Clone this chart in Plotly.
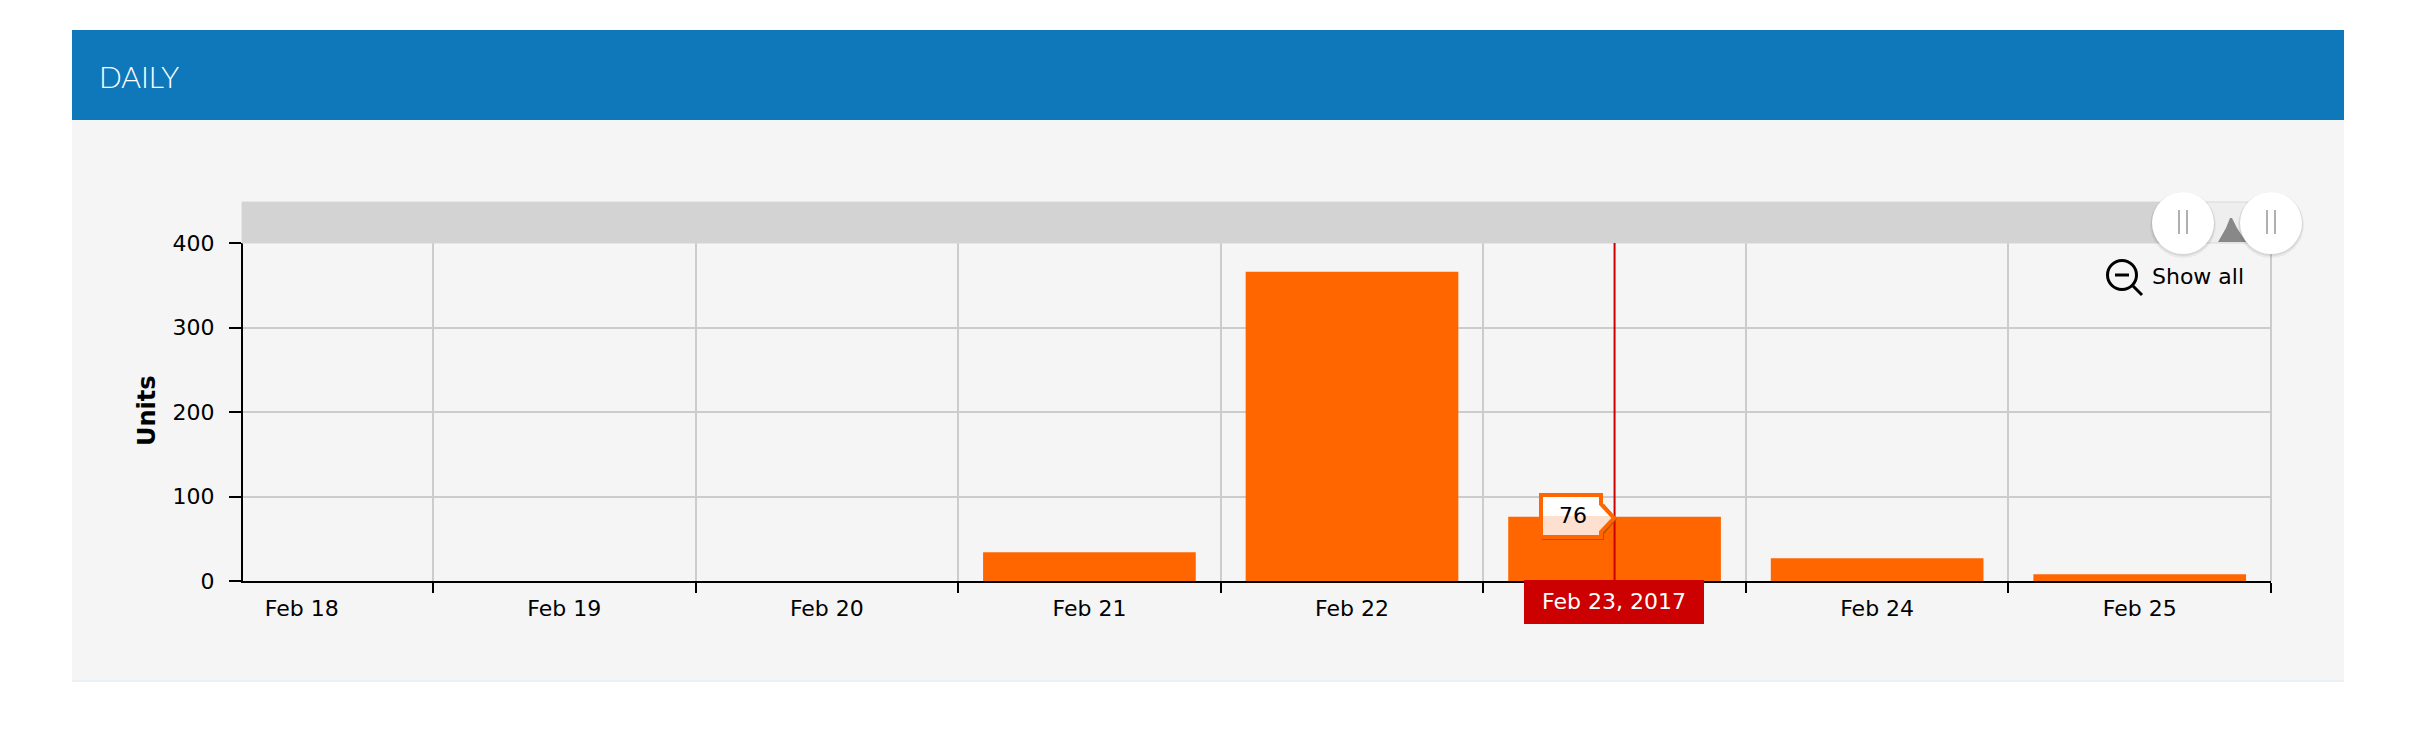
import plotly.graph_objects as go

W, H = 2426, 734
L, R, T, B = 243, 2271, 243, 581

days = ["Feb 18", "Feb 19", "Feb 20", "Feb 21", "Feb 22", "Feb 23", "Feb 24", "Feb 25"]
units = [0, 0, 0, 34, 366, 76, 27, 8]
y_ticks = [0, 100, 200, 300, 400]
cursor_day = "Feb 23"
cursor_label = "Feb 23, 2017"
header_title = "DAILY"
y_title = "Units"
zoom_label = "Show all"

ORANGE = "#ff6600"
RED = "#cc0000"
BLUE = "#0f78bb"
PANEL = "#f5f5f5"
FONT = "DejaVu Sans"
FS = 22


def px(x):
    return (x - L) / (R - L)


def py(y):
    return (B - y) / (B - T)


def rect(x0, y0, x1, y1, fill, layer="above", line=None, lw=0):
    return dict(type="rect", xref="paper", yref="paper", x0=px(x0), x1=px(x1), y0=py(y0), y1=py(y1),
                fillcolor=fill, layer=layer, line=dict(color=line or fill, width=lw))


def poly(points, fill=None, line=None, lw=0, close=True):
    d = "M" + " L".join(f"{px(a):.5f},{py(b):.5f}" for a, b in points) + (" Z" if close else "")
    return dict(type="path", xref="paper", yref="paper", path=d, layer="above",
                fillcolor=fill or "rgba(0,0,0,0)", line=dict(color=line or "rgba(0,0,0,0)", width=lw))


def circle(cx, cy, r, fill, line=None, lw=0, opacity=1):
    return dict(type="circle", xref="paper", yref="paper", x0=px(cx - r), x1=px(cx + r), y0=py(cy + r), y1=py(cy - r),
                fillcolor=fill, layer="above", opacity=opacity, line=dict(color=line or "rgba(0,0,0,0)", width=lw))


def seg(x0, y0, x1, y1, color, lw, layer="above"):
    return dict(type="line", xref="paper", yref="paper", x0=px(x0), x1=px(x1), y0=py(y0), y1=py(y1),
                layer=layer, line=dict(color=color, width=lw))


cursor_idx = days.index(cursor_day)
shapes = [
    rect(72, 30, 2344, 120, BLUE, "below"),
    rect(72, 120, 2344, 680, PANEL, "below"),
    seg(72, 681, 2344, 681, "#e8f1f8", 2),
    # right border of the plot and scrollbar
    seg(2271, 243, 2271, 581, "#cccccc", 2),
    # scrollbar
    rect(242, 202, 2271, 243, "#eeeeee", line="#d8d8d8", lw=1),
    rect(242, 202, 2183, 243, "#d3d3d3"),
    poly([(2218, 242), (2226, 228), (2230, 218), (2232, 218), (2237, 228), (2246, 242)], fill="#888888"),
    # cursor
    dict(type="line", xref="x", yref="paper", x0=cursor_idx, x1=cursor_idx, y0=0, y1=1, layer="above",
         line=dict(color=RED, width=2)),
    rect(1524, 580, 1704, 624, RED),
    # balloon
    poly([(1541, 540), (1604, 540), (1604, 534), (1617, 519), (1604, 504), (1604, 510)], fill="#b85000"),
    poly([(1541, 495), (1601, 495), (1601, 504), (1614, 518), (1601, 532), (1601, 537), (1541, 537)], fill="#fde0cf"),
    poly([(1543, 497), (1599, 497), (1599, 505), (1610, 516), (1543, 516)], fill="#ffffff"),
    poly([(1541, 495), (1601, 495), (1601, 504), (1614, 518), (1601, 532), (1601, 537), (1541, 537)], line=ORANGE, lw=4),
    # show-all icon
    circle(2122, 275, 14.5, "rgba(0,0,0,0)", "#000000", 3),
    seg(2115, 275, 2129, 275, "#000000", 3),
    seg(2133, 286, 2142, 295, "#000000", 3),
]
for cx in (2183, 2271):
    shapes += [
        circle(cx, 225, 33, "#000000", opacity=0.05),
        circle(cx, 224, 32, "#000000", opacity=0.07),
        circle(cx, 223, 31, "#ffffff"),
        seg(cx - 4, 210, cx - 4, 234, "#b0b0b0", 2),
        seg(cx + 4, 210, cx + 4, 234, "#b0b0b0", 2),
    ]

annotations = [
    dict(xref="paper", yref="paper", x=px(97), y=py(76), xanchor="left", yanchor="middle", showarrow=False,
         text=header_title, font=dict(family="Lato", size=30, color="#ffffff", weight=300)),
    dict(xref="paper", yref="paper", x=px(1614), y=py(601), xanchor="center", yanchor="middle", showarrow=False,
         text=cursor_label, font=dict(family=FONT, size=FS, color="#ffffff")),
    dict(xref="paper", yref="paper", x=px(1573), y=py(515), xanchor="center", yanchor="middle", showarrow=False,
         text=str(units[cursor_idx]), font=dict(family=FONT, size=FS, color="#000000")),
    dict(xref="paper", yref="paper", x=px(2150), y=py(276), xanchor="left", yanchor="middle", showarrow=False,
         text=zoom_label, font=dict(family=FONT, size=FS, color="#000000")),
    dict(xref="paper", yref="paper", x=px(147), y=py(411), xanchor="center", yanchor="middle", showarrow=False,
         textangle=-90, text=f"<b>{y_title}</b>", font=dict(family=FONT, size=FS + 2, color="#000000")),
]

fig = go.Figure(go.Bar(x=days, y=units, width=0.81, marker=dict(color=ORANGE, line=dict(width=0)), hoverinfo="skip"))
fig.update_layout(
    width=W, height=H, autosize=False, showlegend=False,
    margin=dict(l=L, r=W - R, t=T, b=H - B, pad=0),
    paper_bgcolor="#ffffff", plot_bgcolor=PANEL,
    font=dict(family=FONT, size=FS, color="#000000"),
    shapes=shapes, annotations=annotations,
)
fig.update_xaxes(
    type="category", categoryorder="array", categoryarray=days, tickson="boundaries",
    labelalias={cursor_day: " "},
    range=[-0.2236, 7.5], showgrid=True, gridcolor="#cccccc", gridwidth=2,
    showline=True, linecolor="#000000", linewidth=2, ticks="outside", ticklen=10, tickwidth=2, tickcolor="#000000",
    tickfont=dict(family=FONT, size=FS), ticklabelstandoff=7,
)
fig.update_yaxes(
    range=[0, 400], tickvals=y_ticks, showgrid=True, gridcolor="#cccccc", gridwidth=2, zeroline=False,
    showline=True, linecolor="#000000", linewidth=2, ticks="outside", ticklen=12, tickwidth=2, tickcolor="#000000",
    tickfont=dict(family=FONT, size=FS), ticklabelstandoff=10,
)
fig.write_html("out.html", config=dict(displayModeBar=False),
               post_script="document.body.style.margin='0';document.body.style.overflow='hidden';")
